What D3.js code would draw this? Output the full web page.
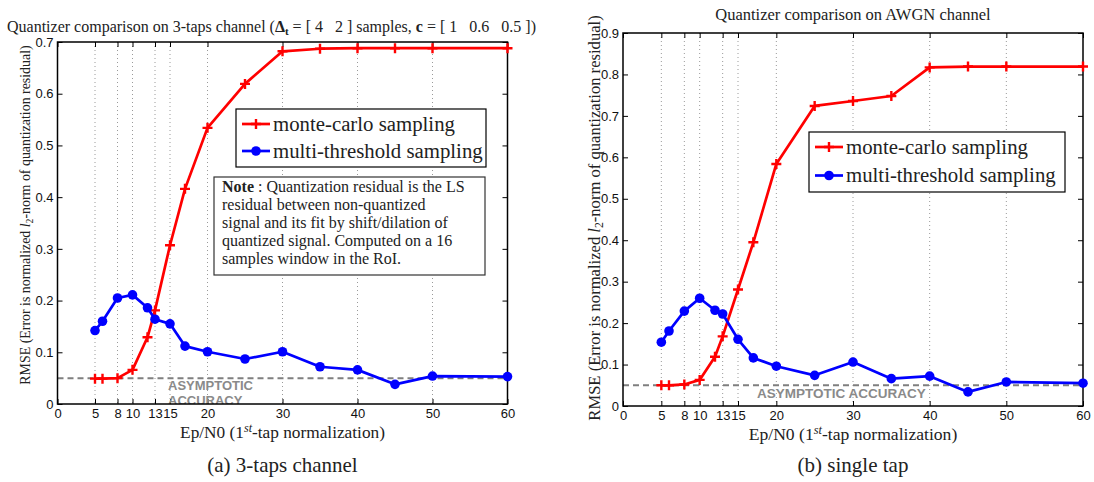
<!doctype html>
<html>
<head>
<meta charset="utf-8">
<script src="https://cdnjs.cloudflare.com/ajax/libs/d3/7.8.5/d3.min.js"></script>
<style>
  body { margin: 0; background: #fff; }
  svg { display: block; }
  .serif { font-family: "Liberation Serif", "Times New Roman", serif; fill: #222; }
  .tick text { font-family: "Liberation Sans", Arial, sans-serif; font-size: 13px; fill: #111; }
  .tick line { stroke: #000; }
  .domain { display: none; }
</style>
</head>
<body>
<div id="chart"></div>
<script>
// shared x values (Ep/N0)
var ebno = [5, 6, 8, 10, 12, 13, 15, 17, 20, 25, 30, 35, 40, 45, 50, 60];
var xTicks = [0, 5, 8, 10, 13, 15, 20, 30, 40, 50, 60];
var gridX = [5, 8, 10, 13, 15, 20, 30, 40, 50];

// (a) 3-taps channel
var monteCarloA = [0.049, 0.049, 0.050, 0.066, 0.129, 0.181, 0.307, 0.416, 0.534, 0.619, 0.682, 0.687, 0.688, 0.688, 0.688, 0.688];
var multiThreshA = [0.142, 0.160, 0.205, 0.211, 0.186, 0.164, 0.155, 0.112, 0.101, 0.087, 0.101, 0.072, 0.066, 0.038, 0.054, 0.053];
var yTicksA = [0, 0.1, 0.2, 0.3, 0.4, 0.5, 0.6, 0.7];

// (b) single tap
var monteCarloB = [0.050, 0.050, 0.052, 0.063, 0.119, 0.168, 0.281, 0.395, 0.584, 0.724, 0.736, 0.748, 0.817, 0.819, 0.819, 0.819];
var multiThreshB = [0.154, 0.181, 0.229, 0.260, 0.231, 0.222, 0.161, 0.116, 0.096, 0.074, 0.106, 0.066, 0.072, 0.034, 0.058, 0.055];
var yTicksB = [0, 0.1, 0.2, 0.3, 0.4, 0.5, 0.6, 0.7, 0.8, 0.9];

var asymptote = 0.05;
var seriesNames = ["monte-carlo sampling", "multi-threshold sampling"];

var svg = d3.select("#chart").append("svg")
  .attr("width", 1094)
  .attr("height", 482);
var defs = svg.append("defs");

function panel(o) {
  var x = d3.scaleLinear().domain([0, 60]).range([o.left, o.right]);
  var y = d3.scaleLinear().domain([0, o.ymax]).range([o.bottom, o.top]);
  var g = svg.append("g");

  defs.append("clipPath").attr("id", o.id)
    .append("rect").attr("x", o.left).attr("y", o.top)
    .attr("width", o.right - o.left).attr("height", o.bottom - o.top);

  // dotted vertical grid
  g.selectAll(".grid").data(gridX).enter().append("line")
    .attr("x1", function(d) { return x(d); })
    .attr("x2", function(d) { return x(d); })
    .attr("y1", o.top).attr("y2", o.bottom)
    .attr("stroke", "#9a9a9a")
    .attr("stroke-width", 1)
    .attr("stroke-dasharray", "1,3");

  // axes, ticks inward
  g.append("g").attr("transform", "translate(0," + o.bottom + ")")
    .call(d3.axisBottom(x).tickValues(xTicks).tickSizeInner(-5).tickSizeOuter(0).tickPadding(5).tickFormat(d3.format("d")));
  g.append("g").attr("transform", "translate(0," + o.top + ")")
    .call(d3.axisTop(x).tickValues(xTicks).tickSizeInner(-5).tickSizeOuter(0).tickFormat(""));
  g.append("g").attr("transform", "translate(" + o.left + ",0)")
    .call(d3.axisLeft(y).tickValues(o.yTicks).tickSizeInner(-5).tickSizeOuter(0).tickPadding(4)
      .tickFormat(function(d) { return d === 0 ? "0" : d3.format(".1f")(d); }));
  g.append("g").attr("transform", "translate(" + o.right + ",0)")
    .call(d3.axisRight(y).tickValues(o.yTicks).tickSizeInner(-5).tickSizeOuter(0).tickFormat(""));

  // asymptotic accuracy line + label (clipped to the axes box)
  g.append("line")
    .attr("x1", o.left).attr("x2", o.right)
    .attr("y1", y(asymptote)).attr("y2", y(asymptote))
    .attr("stroke", "#7f7f7f").attr("stroke-width", 2)
    .attr("stroke-dasharray", "6,4");
  var at = g.append("text")
    .attr("clip-path", "url(#" + o.id + ")")
    .attr("font-family", "Liberation Sans, Arial, sans-serif")
    .attr("font-weight", "bold")
    .attr("font-size", o.asyFont)
    .attr("fill", "#8a8a8a");
  o.asyLines.forEach(function(t, i) {
    at.append("tspan").attr("x", o.asyX).attr("y", o.asyY + i * 15).text(t);
  });

  g.append("rect")
    .attr("x", o.left).attr("y", o.top)
    .attr("width", o.right - o.left).attr("height", o.bottom - o.top)
    .attr("fill", "none").attr("stroke", "#000").attr("stroke-width", 1.5);

  var line = d3.line()
    .x(function(d, i) { return x(ebno[i]); })
    .y(function(d) { return y(d); });

  // monte-carlo
  g.append("path").datum(o.mc)
    .attr("d", line).attr("fill", "none")
    .attr("stroke", "#ff0000").attr("stroke-width", 2.7).attr("stroke-linejoin", "round");
  g.selectAll(".plus").data(o.mc).enter().append("path")
    .attr("d", function(d, i) {
      var cx = x(ebno[i]), cy = y(d);
      return "M" + (cx - 5) + "," + cy + "H" + (cx + 5) + "M" + cx + "," + (cy - 5) + "V" + (cy + 5);
    })
    .attr("stroke", "#ff0000").attr("stroke-width", 2.4);

  // multi-threshold
  g.append("path").datum(o.mt)
    .attr("d", line).attr("fill", "none")
    .attr("stroke", "#0000ff").attr("stroke-width", 2.7).attr("stroke-linejoin", "round");
  g.selectAll(".dot").data(o.mt).enter().append("circle")
    .attr("cx", function(d, i) { return x(ebno[i]); })
    .attr("cy", function(d) { return y(d); })
    .attr("r", 4.8)
    .attr("fill", "#0000ff");

  // legend
  var L = o.legend;
  g.append("rect").attr("x", L.x).attr("y", L.y).attr("width", L.w).attr("height", L.h)
    .attr("fill", "#fff").attr("stroke", "#000").attr("stroke-width", 1.2);
  seriesNames.forEach(function(name, i) {
    var cy = L.y + L.row0 + i * L.dy;
    var col = i === 0 ? "#ff0000" : "#0000ff";
    g.append("line").attr("x1", L.x + 6).attr("x2", L.x + 34).attr("y1", cy).attr("y2", cy)
      .attr("stroke", col).attr("stroke-width", 2.7);
    if (i === 0) {
      g.append("path")
        .attr("d", "M" + (L.x + 15) + "," + cy + "H" + (L.x + 25) + "M" + (L.x + 20) + "," + (cy - 5) + "V" + (cy + 5))
        .attr("stroke", col).attr("stroke-width", 2.4);
    } else {
      g.append("circle").attr("cx", L.x + 20).attr("cy", cy).attr("r", 4.8).attr("fill", col);
    }
    g.append("text").attr("class", "serif")
      .attr("x", L.x + 37).attr("y", cy).attr("dy", "0.33em")
      .attr("font-size", L.font).text(name);
  });

  // axis labels
  var xl = g.append("text").attr("class", "serif")
    .attr("x", (o.left + o.right) / 2).attr("y", o.xlabY)
    .attr("text-anchor", "middle").attr("font-size", o.labFont);
  xl.append("tspan").text("Ep/N0 (1");
  xl.append("tspan").attr("font-style", "italic").attr("font-size", o.labFont * 0.7).attr("dy", -6).text("st");
  xl.append("tspan").attr("dy", 6).text("-tap normalization)");

  var yl = g.append("text").attr("class", "serif")
    .attr("transform", "translate(" + o.ylabX + "," + o.ylabY + ") rotate(-90)")
    .attr("text-anchor", "middle").attr("font-size", o.ylabFont);
  yl.append("tspan").text("RMSE (Error is normalized ");
  yl.append("tspan").attr("font-style", "italic").text("l");
  yl.append("tspan").attr("font-size", o.ylabFont * 0.7).attr("dy", 3).text("2");
  yl.append("tspan").attr("dy", -3).text("-norm of quantization residual)");

  // caption
  g.append("text").attr("class", "serif")
    .attr("x", (o.left + o.right) / 2).attr("y", o.capY)
    .attr("text-anchor", "middle").attr("font-size", 21)
    .text(o.caption);

  return g;
}

var ga = panel({
  id: "clipA",
  left: 57.5, right: 507.5, top: 42, bottom: 404, ymax: 0.7, yTicks: yTicksA,
  mc: monteCarloA, mt: multiThreshA,
  asyLines: ["ASYMPTOTIC", "ACCURACY"], asyX: 168, asyY: 390, asyFont: 13,
  legend: { x: 236, y: 109, w: 250, h: 58, row0: 15, dy: 27, font: 20.8 },
  xlabY: 438, labFont: 17.3, ylabX: 30, ylabY: 215, ylabFont: 13.9,
  capY: 472, caption: "(a)  3-taps channel"
});

var gb = panel({
  id: "clipB",
  left: 623, right: 1083, top: 33, bottom: 406, ymax: 0.9, yTicks: yTicksB,
  mc: monteCarloB, mt: multiThreshB,
  asyLines: ["ASYMPTOTIC ACCURACY"], asyX: 757, asyY: 398, asyFont: 13.5,
  legend: { x: 809, y: 132, w: 256, h: 60, row0: 15, dy: 28.5, font: 20.8 },
  xlabY: 440, labFont: 17.6, ylabX: 600, ylabY: 218, ylabFont: 16.6,
  capY: 472, caption: "(b)  single tap"
});

// note box on panel (a)
var noteLines = [
  ["Note", " : Quantization residual is the LS"],
  ["", "residual between non-quantized"],
  ["", "signal and its fit by shift/dilation of"],
  ["", "quantized signal. Computed on a 16"],
  ["", "samples window in the RoI."]
];
ga.append("rect").attr("x", 214).attr("y", 177).attr("width", 271).attr("height", 98)
  .attr("fill", "#fff").attr("stroke", "#333").attr("stroke-width", 1.2);
noteLines.forEach(function(l, i) {
  var t = ga.append("text").attr("class", "serif")
    .attr("x", 222).attr("y", 186 + i * 18).attr("dy", "0.35em")
    .attr("font-size", 16).style("white-space", "pre");
  if (l[0]) t.append("tspan").attr("font-weight", "bold").text(l[0]);
  t.append("tspan").text(l[1]);
});

// titles
var ta = svg.append("text").attr("class", "serif")
  .attr("x", 7).attr("y", 32).attr("font-size", 16).style("white-space", "pre");
ta.append("tspan").text("Quantizer comparison on 3-taps channel (");
ta.append("tspan").attr("font-weight", "bold").text("Δ");
ta.append("tspan").attr("font-weight", "bold").attr("font-size", 11).attr("dy", 3).text("t");
ta.append("tspan").attr("dy", -3).text(" = [ 4   2 ] samples, ");
ta.append("tspan").attr("font-weight", "bold").text("c");
ta.append("tspan").text(" = [ 1   0.6   0.5 ])");

svg.append("text").attr("class", "serif")
  .attr("x", 853).attr("y", 20).attr("text-anchor", "middle")
  .attr("font-size", 16.5).text("Quantizer comparison on AWGN channel");
</script>
</body>
</html>
